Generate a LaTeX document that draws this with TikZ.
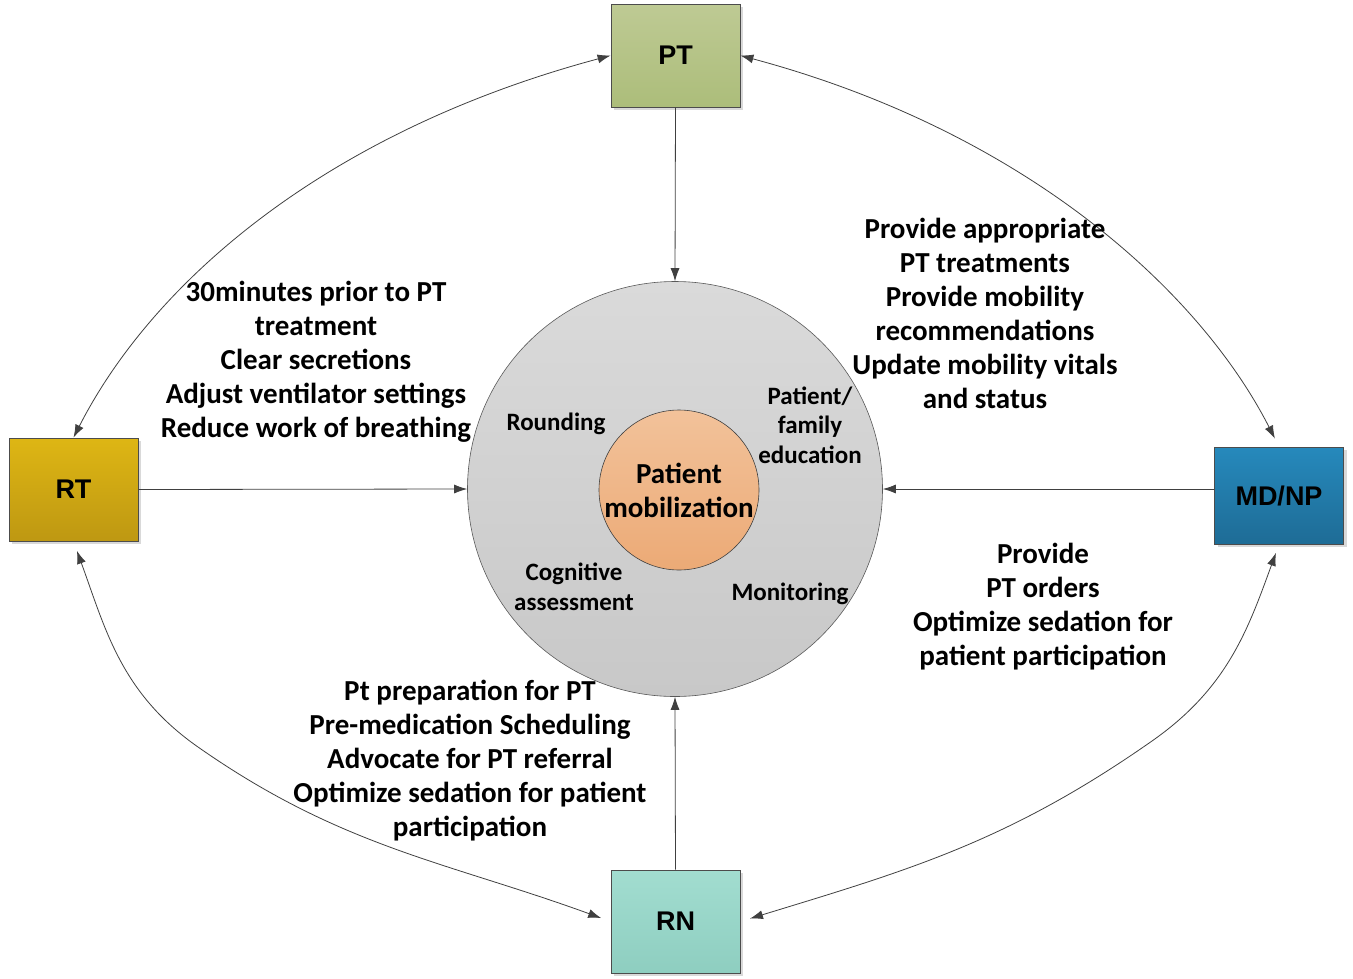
\documentclass[tikz,border=0pt]{standalone}
\usepackage{fontspec}
\setmainfont{Carlito}
\newfontfamily\boxfont{Liberation Sans}
\usetikzlibrary{arrows.meta,shadows}
\definecolor{ptTop}{RGB}{190,202,148}
\definecolor{ptBot}{RGB}{172,189,122}
\definecolor{rtTop}{RGB}{222,182,20}
\definecolor{rtBot}{RGB}{190,152,18}
\definecolor{mdTop}{RGB}{38,137,188}
\definecolor{mdBot}{RGB}{30,108,150}
\definecolor{rnTop}{RGB}{162,221,208}
\definecolor{rnBot}{RGB}{142,206,192}
\definecolor{grTop}{RGB}{218,218,218}
\definecolor{grBot}{RGB}{200,200,200}
\definecolor{orTop}{RGB}{242,194,154}
\definecolor{orBot}{RGB}{236,170,118}
\definecolor{lineC}{RGB}{64,64,64}
\tikzset{
  box/.style={draw=black!70, line width=0.8pt, minimum width=129pt, minimum height=103pt,
    inner sep=0pt, font=\boxfont\bfseries\fontsize{27}{30}\selectfont,
    drop shadow={shadow xshift=3pt, shadow yshift=-3pt, fill=black!15, opacity=1}},
  conn/.style={draw=lineC, line width=0.8pt, -{Latex[length=13pt,width=9pt]}},
  dbl/.style={draw=lineC, line width=0.8pt, {Latex[length=13pt,width=9pt]}-{Latex[length=13pt,width=9pt]}},
  bigtxt/.style={align=center, inner sep=0pt, font=\bfseries\fontsize{29}{34}\selectfont},
  smalltxt/.style={align=center, inner sep=0pt, font=\bfseries\fontsize{25}{29.5}\selectfont},
}
\begin{document}
\begin{tikzpicture}[x=1pt,y=-1pt]
\useasboundingbox (0,0) rectangle (1353,978);
% big circle and inner
\node[circle, draw=black!65, line width=0.6pt, minimum size=415pt, inner sep=0pt,
  top color=grTop, bottom color=grBot] (big) at (675,489) {};
\node[circle, draw=black!75, line width=0.6pt, minimum size=160pt, inner sep=0pt,
  top color=orTop, bottom color=orBot, font=\bfseries\fontsize{29}{34}\selectfont, align=center]
  (pm) at (679,490) {Patient\\mobilization};
% boxes
\node[box, top color=ptTop, bottom color=ptBot] (PT) at (675.5,55.5) {PT};
\node[box, top color=rtTop, bottom color=rtBot] (RT) at (73.5,489.5) {RT};
\node[box, top color=mdTop, bottom color=mdBot, minimum height=97pt] (MD) at (1279,495.5) {MD/NP};
\node[box, top color=rnTop, bottom color=rnBot] (RN) at (675.5,921.5) {RN};
% straight connectors
\draw[conn] (PT.south) -- (big.north);
\draw[conn] (RT.east) -- (big.west);
\draw[conn] (big.east -| MD.west) -- (big.east);
\draw[conn] (RN.north) -- (big.south);
% curved double arrows
\coordinate (bl) at (198,747);
\coordinate (br) at (1152,741);
\draw[dbl] (PT.west) to[out=195, in=63, out distance=296pt, in distance=174pt] (RT.north);
\draw[dbl, shorten >=9pt] (PT.east) to[out=-15, in=117, out distance=296pt, in distance=174pt] (MD.north);
\draw[dbl, shorten <=10pt, shorten >=10pt] (RT.south) to[out=-70, in=145] (bl) to[out=-35, in=160] (RN.west);
\draw[dbl, shorten <=10pt, shorten >=9pt] (RN.east) to[out=17, in=-145] (br) to[out=35, in=-110] (MD.south);
% inner labels
\node[smalltxt] (rnd) at (556,424) {Rounding};
\node[smalltxt] (edu) at (810,425) {Patient/\\family\\education};
\node[smalltxt] (cog) at (574,587) {Cognitive\\assessment};
\node[smalltxt] (mon) at (790,594) {Monitoring};
% outer text blocks
\node[bigtxt] (tRT) at (316,362) {30minutes prior to PT\\treatment\\Clear secretions\\Adjust ventilator settings\\Reduce work of breathing};
\node[bigtxt] (tPT) at (985,313) {Provide appropriate\\PT treatments\\Provide mobility\\recommendations\\Update mobility vitals\\and status};
\node[bigtxt] (tMD) at (1043,607) {Provide\\PT orders\\Optimize sedation for\\patient participation};
\node[bigtxt] (tRN) at (470,761) {Pt preparation for PT\\Pre-medication Scheduling\\Advocate for PT referral\\Optimize sedation for patient\\participation};
\end{tikzpicture}
\end{document}
